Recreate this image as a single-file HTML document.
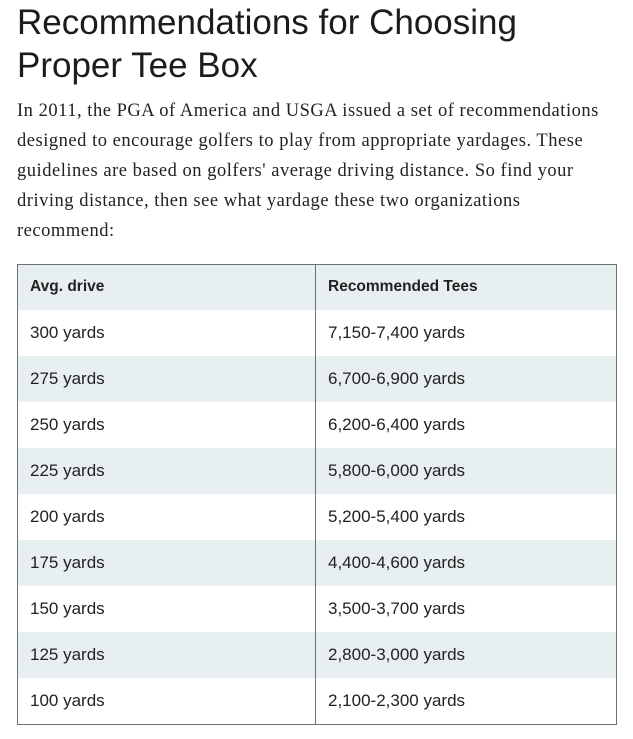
<!DOCTYPE html>
<html>
<head>
<meta charset="utf-8">
<style>
html,body{margin:0;padding:0;background:#fff;}
body{width:633px;height:739px;position:relative;overflow:hidden;}
.title{position:absolute;left:17px;top:1px;font-family:"Liberation Sans",sans-serif;font-size:35px;line-height:43px;color:#1c1c1c;white-space:nowrap;}
.para{position:absolute;left:17px;top:96px;font-family:"Liberation Serif",serif;font-size:18.5px;line-height:30px;color:#222;letter-spacing:0.52px;white-space:nowrap;}
.row{position:absolute;left:17px;width:600px;height:46px;}
.shade{background:#e8eff1;}
.c1,.c2{position:absolute;top:0;line-height:46px;font-family:"Liberation Sans",sans-serif;font-size:17px;color:#222;white-space:nowrap;}
.c1{left:13px;}
.c2{left:311px;}
.hd .c1,.hd .c2{font-weight:bold;font-size:15.5px;letter-spacing:0;}
.bl{position:absolute;background:#6c7171;}
</style>
</head>
<body>
<div class="title">Recommendations for Choosing<br>Proper Tee Box</div>
<div class="para">In 2011, the PGA of America and USGA issued a set of recommendations<br>designed to encourage golfers to play from appropriate yardages. These<br>guidelines are based on golfers' average driving distance. So find your<br>driving distance, then see what yardage these two organizations<br>recommend:</div>

<div class="row shade hd" style="top:264px"><span class="c1">Avg. drive</span><span class="c2">Recommended Tees</span></div>
<div class="row" style="top:310px"><span class="c1">300 yards</span><span class="c2">7,150-7,400 yards</span></div>
<div class="row shade" style="top:356px"><span class="c1">275 yards</span><span class="c2">6,700-6,900 yards</span></div>
<div class="row" style="top:402px"><span class="c1">250 yards</span><span class="c2">6,200-6,400 yards</span></div>
<div class="row shade" style="top:448px"><span class="c1">225 yards</span><span class="c2">5,800-6,000 yards</span></div>
<div class="row" style="top:494px"><span class="c1">200 yards</span><span class="c2">5,200-5,400 yards</span></div>
<div class="row shade" style="top:540px"><span class="c1">175 yards</span><span class="c2">4,400-4,600 yards</span></div>
<div class="row" style="top:586px"><span class="c1">150 yards</span><span class="c2">3,500-3,700 yards</span></div>
<div class="row shade" style="top:632px"><span class="c1">125 yards</span><span class="c2">2,800-3,000 yards</span></div>
<div class="row" style="top:678px"><span class="c1">100 yards</span><span class="c2">2,100-2,300 yards</span></div>

<div class="bl" style="left:17px;top:264px;width:600px;height:1px"></div>
<div class="bl" style="left:17px;top:724px;width:600px;height:1px"></div>
<div class="bl" style="left:17px;top:264px;width:1px;height:461px"></div>
<div class="bl" style="left:616px;top:264px;width:1px;height:461px"></div>
<div class="bl" style="left:315px;top:264px;width:1px;height:461px"></div>
</body>
</html>
